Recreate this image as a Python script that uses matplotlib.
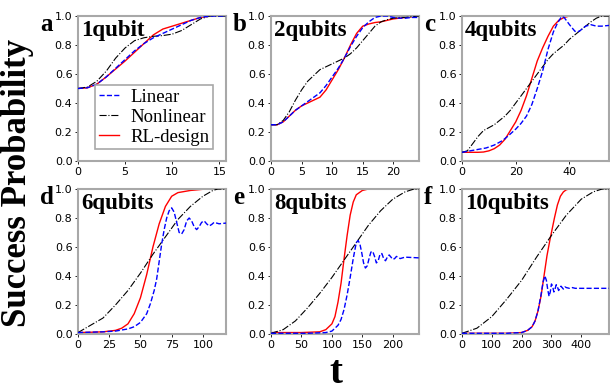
import matplotlib
matplotlib.use("Agg")
import matplotlib.pyplot as plt

# panel a: 1 qubit
t_a = [0, 1, 2, 3, 4, 5, 6, 7, 8, 9, 10, 11, 12, 13, 14, 15, 15.7]
lin_a = [0.50, 0.505, 0.53, 0.58, 0.64, 0.70, 0.76, 0.81, 0.85, 0.88, 0.91, 0.94, 0.97, 0.99, 1.0, 1.0, 1.0]
non_a = [0.50, 0.51, 0.55, 0.62, 0.71, 0.78, 0.83, 0.85, 0.86, 0.865, 0.875, 0.90, 0.94, 0.98, 1.0, 1.0, 1.0]
rl_a = [0.50, 0.505, 0.53, 0.58, 0.635, 0.69, 0.75, 0.81, 0.87, 0.91, 0.93, 0.95, 0.97, 0.99, 1.0, 1.0, 1.0]

# panel b: 2 qubits
t_b = [0, 1, 2, 3, 4, 5, 6, 7, 8, 9, 10, 11, 12, 13, 14, 15, 16, 17, 18, 19, 20, 21, 22, 23, 24.2]
lin_b = [0.25, 0.25, 0.27, 0.31, 0.35, 0.38, 0.41, 0.44, 0.47, 0.52, 0.58, 0.64, 0.71, 0.79, 0.86, 0.92, 0.96, 0.99, 1.0, 1.0, 0.99, 0.985, 0.985, 0.99, 0.99]
non_b = [0.25, 0.25, 0.28, 0.34, 0.42, 0.49, 0.55, 0.59, 0.63, 0.65, 0.67, 0.69, 0.71, 0.74, 0.78, 0.83, 0.88, 0.93, 0.96, 0.975, 0.985, 0.99, 0.99, 0.995, 1.0]
rl_b = [0.25, 0.25, 0.27, 0.31, 0.35, 0.38, 0.40, 0.42, 0.44, 0.49, 0.56, 0.63, 0.71, 0.80, 0.88, 0.93, 0.945, 0.955, 0.96, 0.97, 0.98, 0.985, 0.99, 0.995, 1.0]

# panel c: 4 qubits
t_c_lin = [0, 3, 6, 9, 12, 15, 17, 20, 22, 24, 26, 28, 30, 32, 34, 35.5, 37, 38, 40, 42, 43, 44, 46, 48, 50, 52, 54.7]
lin_c = [0.06, 0.07, 0.08, 0.09, 0.11, 0.14, 0.17, 0.22, 0.26, 0.31, 0.39, 0.50, 0.62, 0.77, 0.89, 0.95, 0.995, 0.99, 0.94, 0.895, 0.89, 0.90, 0.93, 0.94, 0.93, 0.93, 0.935]
t_c = [0, 2, 4, 6, 8, 10, 12, 14, 16, 18, 20, 22, 24, 26, 28, 30, 32, 34, 36, 38, 40, 42, 44, 46, 48, 50, 52, 54.7]
non_c = [0.06, 0.07, 0.12, 0.17, 0.21, 0.23, 0.25, 0.28, 0.31, 0.35, 0.40, 0.45, 0.50, 0.55, 0.60, 0.65, 0.70, 0.74, 0.77, 0.80, 0.84, 0.87, 0.90, 0.93, 0.96, 0.985, 1.0, 1.0]
rl_c = [0.06, 0.06, 0.06, 0.06, 0.062, 0.07, 0.085, 0.11, 0.15, 0.21, 0.27, 0.35, 0.45, 0.57, 0.69, 0.78, 0.86, 0.93, 0.97, 0.99, 1.0, 1.0, 1.0, 1.0, 1.0, 1.0, 1.0, 1.0]

# panel d: 6 qubits
t_d_lin = [0, 20, 30, 40, 45, 50, 55, 58, 61, 63, 65, 67, 69, 71, 73, 75, 77, 79, 81, 83, 85, 87, 89, 91, 93, 95, 97, 99, 101, 103, 105, 107, 109, 111, 113, 118.5]
lin_d = [0.01, 0.015, 0.02, 0.035, 0.05, 0.08, 0.14, 0.21, 0.30, 0.38, 0.50, 0.62, 0.72, 0.80, 0.85, 0.87, 0.84, 0.77, 0.70, 0.69, 0.72, 0.78, 0.80, 0.78, 0.74, 0.72, 0.74, 0.77, 0.78, 0.76, 0.745, 0.755, 0.77, 0.765, 0.76, 0.765]
t_d_non = [0, 10, 20, 30, 40, 50, 60, 70, 80, 90, 100, 108, 112, 118.5]
non_d = [0.01, 0.06, 0.11, 0.20, 0.30, 0.42, 0.55, 0.67, 0.79, 0.88, 0.95, 0.99, 1.0, 1.0]
t_d_rl = [0, 10, 20, 30, 35, 40, 45, 50, 55, 60, 65, 70, 75, 80, 90, 100, 118.5]
rl_d = [0.01, 0.012, 0.015, 0.025, 0.04, 0.07, 0.14, 0.25, 0.41, 0.60, 0.76, 0.88, 0.95, 0.975, 0.99, 0.998, 1.0]

# panel e: 8 qubits
t_e_lin = [0, 60, 90, 100, 110, 115, 120, 125, 130, 135, 140, 143, 146, 149, 152, 155, 158, 161, 164, 167, 170, 173, 176, 179, 182, 185, 188, 191, 194, 197, 200, 203, 206, 209, 212, 216, 220, 243]
lin_e = [0.005, 0.005, 0.01, 0.02, 0.06, 0.10, 0.17, 0.27, 0.39, 0.52, 0.63, 0.645, 0.62, 0.56, 0.49, 0.455, 0.47, 0.52, 0.565, 0.57, 0.535, 0.49, 0.505, 0.55, 0.555, 0.52, 0.505, 0.53, 0.545, 0.53, 0.515, 0.52, 0.535, 0.53, 0.52, 0.525, 0.53, 0.525]
t_e_non = [0, 20, 40, 60, 80, 100, 120, 140, 160, 180, 200, 220, 235, 243]
non_e = [0.005, 0.03, 0.09, 0.18, 0.28, 0.39, 0.51, 0.63, 0.75, 0.85, 0.93, 0.98, 1.0, 1.0]
t_e_rl = [0, 50, 80, 90, 100, 105, 110, 115, 120, 125, 130, 135, 140, 150, 160, 243]
rl_e = [0.01, 0.01, 0.015, 0.03, 0.07, 0.12, 0.22, 0.35, 0.52, 0.68, 0.82, 0.91, 0.96, 0.99, 1.0, 1.0]

# panel f: 10 qubits
t_f_lin = [0, 150, 200, 220, 235, 245, 255, 265, 272, 278, 283, 288, 292, 296, 300, 304, 308, 312, 316, 320, 324, 328, 332, 336, 340, 345, 350, 360, 370, 380, 400, 493]
lin_f = [0.005, 0.005, 0.01, 0.025, 0.05, 0.09, 0.16, 0.27, 0.36, 0.40, 0.37, 0.30, 0.26, 0.29, 0.345, 0.33, 0.29, 0.31, 0.34, 0.325, 0.30, 0.315, 0.33, 0.32, 0.31, 0.325, 0.32, 0.315, 0.32, 0.315, 0.315, 0.315]
t_f_non = [0, 50, 100, 150, 200, 250, 300, 350, 400, 440, 470, 493]
non_f = [0.005, 0.04, 0.12, 0.24, 0.37, 0.53, 0.68, 0.82, 0.93, 0.98, 1.0, 1.0]
t_f_rl = [0, 150, 200, 220, 235, 245, 255, 265, 275, 285, 295, 300, 310, 320, 330, 340, 350, 360, 493]
rl_f = [0.005, 0.005, 0.01, 0.025, 0.05, 0.09, 0.16, 0.26, 0.40, 0.54, 0.65, 0.70, 0.80, 0.89, 0.95, 0.98, 0.995, 1.0, 1.0]

letters = ["a", "b", "c", "d", "e", "f"]
titles = ["1qubit", "2qubits", "4qubits", "6qubits", "8qubits", "10qubits"]
xmax = [15.7, 24.2, 54.7, 118.5, 243, 493]
xticks = [[0, 5, 10, 15], [0, 5, 10, 15, 20], [0, 20, 40],
          [0, 25, 50, 75, 100], [0, 50, 100, 150, 200], [0, 100, 200, 300, 400]]

panels = [
    ((t_a, lin_a), (t_a, non_a), (t_a, rl_a)),
    ((t_b, lin_b), (t_b, non_b), (t_b, rl_b)),
    ((t_c_lin, lin_c), (t_c, non_c), (t_c, rl_c)),
    ((t_d_lin, lin_d), (t_d_non, non_d), (t_d_rl, rl_d)),
    ((t_e_lin, lin_e), (t_e_non, non_e), (t_e_rl, rl_e)),
    ((t_f_lin, lin_f), (t_f_non, non_f), (t_f_rl, rl_f)),
]

W, H = 610, 392
fig = plt.figure(figsize=(W / 100, H / 100), dpi=100)

lefts = [78, 271, 462]
tops = [16, 189]
aw, ah = 148, 145
serif = "Liberation Serif"

for i in range(6):
    r, c = divmod(i, 3)
    l, tp = lefts[c], tops[r]
    w = aw if c < 2 else 147
    ax = fig.add_axes([l / W, (H - tp - ah) / H, w / W, ah / H])
    (tl, yl), (tn, yn), (tr, yr) = panels[i]
    ax.plot(tr, yr, color="red", lw=1.0, label="RL-design", zorder=2)
    ax.plot(tn, yn, color="black", lw=0.8, ls="-.", label="Nonlinear", zorder=3)
    ax.plot(tl, yl, color="blue", lw=1.0, ls="--", label="Linear", zorder=4)
    ax.set_xlim(0, xmax[i])
    ax.set_ylim(0, 1.0)
    ax.set_xticks(xticks[i])
    ax.set_yticks([0, 0.2, 0.4, 0.6, 0.8, 1.0])
    ax.set_yticklabels(["0.0", "0.2", "0.4", "0.6", "0.8", "1.0"])
    ax.tick_params(labelsize=8, length=2.5, width=0.6, pad=1.5)
    for s in ax.spines.values():
        s.set_color("#a8a8a8")
        s.set_linewidth(1.5)
    ax.text(0.02, 0.97, titles[i], transform=ax.transAxes, ha="left", va="top",
            fontsize=16.5, fontweight="bold", family=serif)
    fig.text((l - 38) / W, 1 - (tp - 3) / H, letters[i], ha="left", va="top",
             fontsize=18, fontweight="bold", family=serif)
    if i == 0:
        h, lab = ax.get_legend_handles_labels()
        order = [2, 1, 0]
        leg = ax.legend([h[k] for k in order], [lab[k] for k in order],
                        loc="lower right", bbox_to_anchor=(0.915, 0.08),
                        prop={"family": serif, "size": 13.5},
                        handlelength=1.1, handletextpad=0.6, labelspacing=0.15,
                        borderpad=0.2, borderaxespad=0, fancybox=False,
                        framealpha=1)
        leg.get_frame().set_edgecolor("#a8a8a8")
        leg.get_frame().set_linewidth(1.2)

fig.text(336 / W, 1 - 383 / H, "t", ha="center", va="baseline",
         fontsize=28, fontweight="bold", family=serif)
fig.text(18 / W, 1 - 183 / H, "Success Probability", ha="center", va="center",
         rotation=90, fontsize=25, fontweight="bold", family=serif)

fig.savefig("out.png", dpi=100)
